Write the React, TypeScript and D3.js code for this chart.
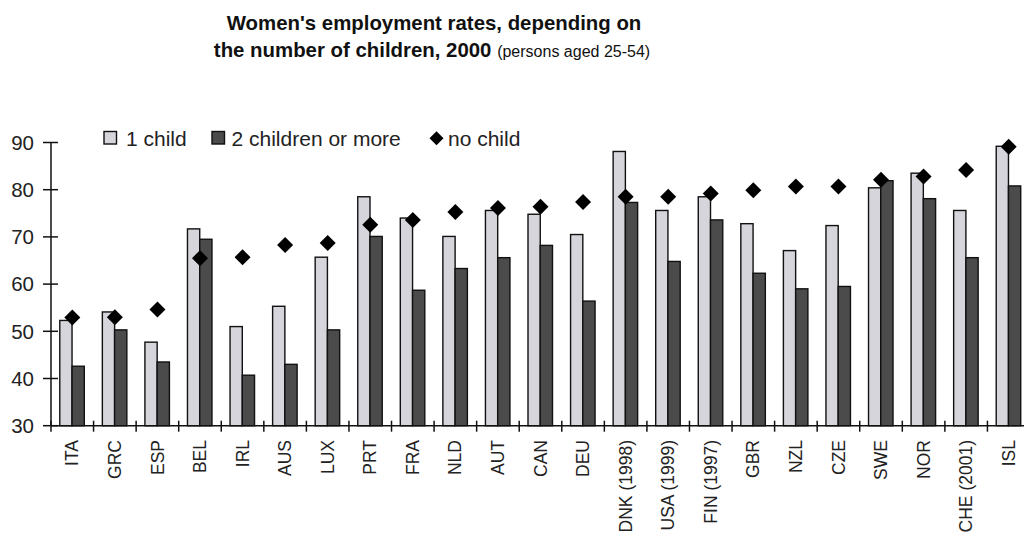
import React from "react";
import * as d3 from "d3";

// Women's employment rates (%) by number of children, persons aged 25-54
const countries = [
  "ITA", "GRC", "ESP", "BEL", "IRL", "AUS", "LUX", "PRT", "FRA", "NLD", "AUT", "CAN",
  "DEU", "DNK (1998)", "USA (1999)", "FIN (1997)", "GBR", "NZL", "CZE", "SWE", "NOR",
  "CHE (2001)", "ISL",
];
const oneChild = [
  52.3, 54.1, 47.7, 71.7, 51.0, 55.3, 65.7, 78.5, 74.0, 70.1, 75.6, 74.8,
  70.5, 88.1, 75.6, 78.5, 72.8, 67.1, 72.4, 80.4, 83.5, 75.6, 89.2,
];
const twoOrMore = [
  42.6, 50.3, 43.5, 69.5, 40.7, 43.0, 50.3, 70.1, 58.7, 63.3, 65.6, 68.2,
  56.4, 77.3, 64.8, 73.6, 62.3, 59.0, 59.5, 81.9, 78.1, 65.6, 80.8,
];
const noChild = [
  52.9, 53.0, 54.6, 65.5, 65.7, 68.3, 68.7, 72.6, 73.6, 75.3, 76.1, 76.4,
  77.4, 78.5, 78.5, 79.2, 79.9, 80.7, 80.7, 82.1, 82.8, 84.2, 89.1,
];
const yTicks = [30, 40, 50, 60, 70, 80, 90];
const legendLabels = ["1 child", "2 children or more", "no child"];

const FONT = "'Liberation Sans', Arial, sans-serif";
const LIGHT = "#d6d5db";
const DARK = "#4b4b4b";

export default function App() {
  const width = 1024;
  const height = 540;
  const left = 51;
  const right = 1030;
  const top = 142.5;
  const bottom = 425.7;

  const x = d3.scaleBand<string>().domain(countries).range([left, right]).padding(0);
  const bw = x.bandwidth();
  const x1 = d3
    .scaleBand<string>()
    .domain(["one", "two"])
    .range([bw / 2 - 12.5, bw / 2 + 12]);
  const y = d3.scaleLinear().domain([30, 90]).range([bottom, top]);

  const diamond = (cx: number, cy: number, r: number) =>
    `M${cx},${cy - r}L${cx + r},${cy}L${cx},${cy + r}L${cx - r},${cy}Z`;

  const tickPositions = d3.range(countries.length + 1).map((i) => left + i * bw);

  return (
    <svg
      width={width}
      height={height}
      style={{ position: "absolute", left: 0, top: 0, background: "#fff" }}
      fontFamily={FONT}
    >
      {/* Title */}
      <text x={434} y={30} textAnchor="middle" fontSize={20.4} fontWeight="bold" fill="#111">
        Women's employment rates, depending on
      </text>
      <text x={432} y={57} textAnchor="middle" fill="#111">
        <tspan fontSize={20.4} fontWeight="bold">the number of children, 2000 </tspan>
        <tspan fontSize={16}>(persons aged 25-54)</tspan>
      </text>

      {/* Bars */}
      {countries.map((c, i) => (
        <g key={c} transform={`translate(${x(c)},0)`}>
          <rect
            x={x1("one")}
            y={y(oneChild[i])}
            width={x1.bandwidth()}
            height={bottom - y(oneChild[i])}
            fill={LIGHT}
            stroke="#111"
            strokeWidth={1.4}
          />
          <rect
            x={x1("two")}
            y={y(twoOrMore[i])}
            width={x1.bandwidth()}
            height={bottom - y(twoOrMore[i])}
            fill={DARK}
            stroke="#111"
            strokeWidth={1.4}
          />
        </g>
      ))}

      {/* No-child markers */}
      {countries.map((c, i) => (
        <path key={c} d={diamond((x(c) as number) + bw / 2, y(noChild[i]), 8)} fill="#000" />
      ))}

      {/* Y axis */}
      <line x1={left} x2={left} y1={top} y2={bottom} stroke="#111" strokeWidth={1.5} />
      {yTicks.map((t) => (
        <g key={t}>
          <line x1={left - 8} x2={left + 7} y1={y(t)} y2={y(t)} stroke="#111" strokeWidth={1.5} />
          <text
            x={34}
            y={y(t)}
            dy="0.36em"
            textAnchor="end"
            fontSize={20.5}
            fill="#222"
          >
            {t}
          </text>
        </g>
      ))}

      {/* X axis */}
      <line x1={left} x2={right} y1={bottom} y2={bottom} stroke="#111" strokeWidth={1.5} />
      {tickPositions.map((p, i) => (
        <line key={i} x1={p} x2={p} y1={bottom - 5} y2={bottom + 6} stroke="#111" strokeWidth={1.5} />
      ))}
      {countries.map((c) => (
        <text
          key={c}
          transform={`translate(${(x(c) as number) + bw / 2},440) rotate(-90)`}
          textAnchor="end"
          dy="0.35em"
          fontSize={17.5}
          fill="#222"
        >
          {c}
        </text>
      ))}

      {/* Legend */}
      <rect x={104} y={131.5} width={12.5} height={12.5} fill={LIGHT} stroke="#111" strokeWidth={1.4} />
      <text x={126} y={146} fontSize={21} fill="#222">
        {legendLabels[0]}
      </text>
      <rect x={212} y={131.5} width={12.5} height={12.5} fill={DARK} stroke="#111" strokeWidth={1.4} />
      <text x={231.5} y={146} fontSize={21} fill="#222">
        {legendLabels[1]}
      </text>
      <path d={diamond(436.5, 138.3, 7)} fill="#000" />
      <text x={448} y={146} fontSize={21} fill="#222">
        {legendLabels[2]}
      </text>
    </svg>
  );
}
